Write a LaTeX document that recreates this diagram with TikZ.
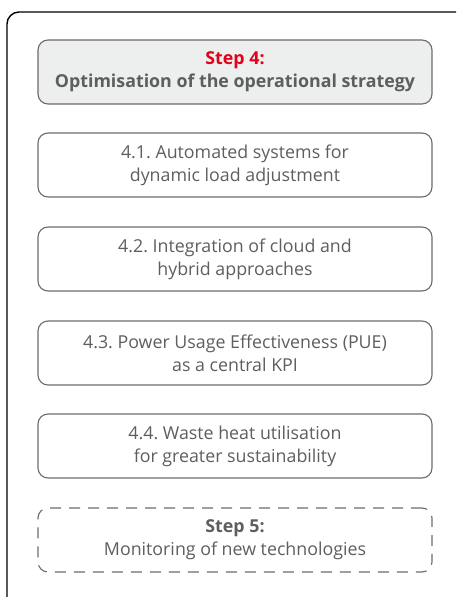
\documentclass[tikz,border=0pt]{standalone}
\usepackage{fontspec}
\setmainfont{Open Sans}
\frenchspacing
\definecolor{txtgray}{HTML}{5E5E5E}
\definecolor{boxgray}{HTML}{6C6C6C}
\definecolor{fillgray}{HTML}{EDEEEE}
\definecolor{stepred}{HTML}{E2001A}
\begin{document}
\begin{tikzpicture}[x=1pt,y=-1pt,
  substep/.style={draw=boxgray, line width=1.1pt, rounded corners=10pt, minimum width=394pt, minimum height=64pt, align=center, text=txtgray, font=\fontsize{17.8}{23}\selectfont, inner sep=0pt},
  headbox/.style={substep, fill=fillgray, font=\fontsize{17.8}{23}\selectfont\bfseries},
  nextbox/.style={substep, dashed, dash pattern=on 11pt off 8pt}]
\useasboundingbox (0,0) rectangle (456,597);
\clip (0,0) rectangle (456,597);
\draw[line width=1.4pt, rounded corners=12pt] (7,12) rectangle (475,612);
\node[headbox] (s4) at (235,72) {\textcolor{stepred}{Step 4:}\\Optimisation of the operational strategy};
\node[substep] (s41) at (235,165) {4.1. Automated systems for\\dynamic load adjustment};
\node[substep] (s42) at (235,259) {4.2. Integration of cloud and\\hybrid approaches};
\node[substep] (s43) at (235,353) {4.3. Power Usage Effectiveness (PUE)\\as a central KPI};
\node[substep] (s44) at (235,446) {4.4. Waste heat utilisation\\for greater sustainability};
\node[nextbox] (s5) at (235,540) {\textbf{Step 5:}\\Monitoring of new technologies};
\end{tikzpicture}
\end{document}
